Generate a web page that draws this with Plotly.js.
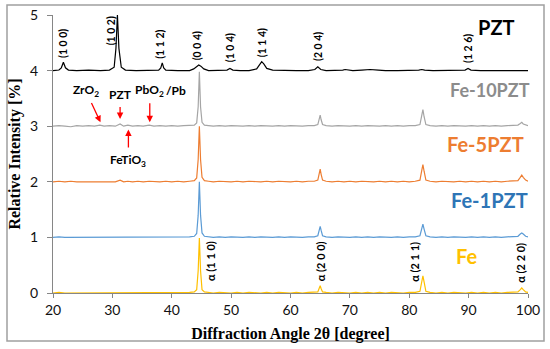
<!DOCTYPE html>
<html>
<head>
<meta charset="utf-8">
<script src="https://cdn.plot.ly/plotly-3.0.1.min.js"></script>
<style>html,body{margin:0;padding:0;background:#fff;}#chart{width:550px;height:349px;}</style>
</head>
<body>
<div id="chart"></div>
<script>
// ---- Data ----
var xPZT = [20,21,21.4,21.75,22.1,22.6,24,26,28,29.5,
  30.3,30.6,30.85,31.1,31.5,32.2,34,36,37.8,38.15,
  38.4,38.65,39,41,43,43.7,44.2,44.55,44.9,45.4,
  46.2,48,49.3,49.8,50.3,51.5,53,54.3,54.8,55.15,
  55.5,56,57,59,61,63,64.1,64.6,65.1,66,
  68,68.8,69.2,69.6,70.5,72,73.4,74.8,76,78,
  80,81.6,82.1,82.6,84,86,88,89.4,89.9,90.4,
  92,94,96,98,100];
var yPZT = [4.00,4.01,4.05,4.15,4.05,4.01,4.00,4.01,4.00,4.01,
  4.06,4.40,5.00,4.40,4.06,4.01,4.00,4.00,4.01,4.05,
  4.14,4.05,4.01,4.00,4.00,4.03,4.08,4.10,4.08,4.03,
  4.00,4.00,4.01,4.04,4.01,4.00,4.00,4.03,4.12,4.16,
  4.12,4.04,4.01,4.00,4.00,4.00,4.02,4.07,4.02,4.00,
  4.00,4.01,4.02,4.01,4.00,4.01,4.02,4.01,4.00,4.00,
  4.00,4.01,4.02,4.01,4.00,4.00,4.00,4.01,4.04,4.01,
  4.00,4.00,4.00,4.00,4.00];

var xFe = [20,21,22,23,24,25,26,27,27.9,28.6,
  29.5,30.5,31.3,31.9,32.6,33.4,34.3,35.2,36.2,37,
  38,39,40,41,42,43,43.8,44.2,44.45,44.65,
  44.85,45.1,45.5,46.2,47,48,49,50,51,52,
  53,54,55,56,57,58,59,60,61,62,
  63,64,64.6,64.85,65.0,65.15,65.4,66,67,68,
  69,70,71,72,73,74,75,76,77,78,
  79,80,81,81.8,82.1,82.3,82.5,82.8,83.5,84.5,
  85.5,86.5,87.5,88.5,89.5,90.5,91.5,92.5,93.5,94.5,
  95.5,96.5,97.5,98.3,98.7,98.95,99.2,99.6,100];

var yFe10 = [3.00,3.01,3.00,2.99,3.01,3.00,3.01,3.00,3.02,3.00,
  3.01,3.00,3.04,3.00,3.02,3.00,3.01,3.00,3.02,3.00,
  3.01,3.00,3.01,3.00,3.01,3.01,3.02,3.06,3.35,3.98,
  3.35,3.07,3.02,3.01,3.00,3.01,3.00,3.01,3.00,3.00,
  3.01,3.00,3.01,3.00,3.00,3.01,3.00,3.01,3.00,3.00,
  3.01,3.01,3.03,3.14,3.20,3.12,3.03,3.01,3.00,3.01,
  3.00,3.00,3.01,3.00,3.01,3.00,3.00,3.01,3.00,3.01,
  3.00,3.01,3.01,3.03,3.18,3.30,3.17,3.03,3.01,3.00,
  3.01,3.00,3.01,3.00,3.00,3.01,3.00,3.01,3.00,3.01,
  3.00,3.01,3.01,3.02,3.05,3.07,3.04,3.02,3.01];

var yFe5 = [2.00,2.01,2.00,2.01,2.00,2.00,2.01,2.00,2.01,2.00,
  2.01,2.00,2.03,2.00,2.01,2.00,2.01,2.00,2.01,2.00,
  2.00,2.01,2.00,2.01,2.00,2.01,2.02,2.07,2.40,3.00,
  2.40,2.08,2.02,2.01,2.00,2.01,2.00,2.00,2.01,2.00,
  2.01,2.00,2.00,2.01,2.00,2.01,2.00,2.00,2.01,2.00,
  2.01,2.01,2.03,2.16,2.23,2.14,2.03,2.01,2.00,2.01,
  2.00,2.01,2.00,2.01,2.00,2.00,2.01,2.00,2.01,2.00,
  2.01,2.00,2.01,2.03,2.20,2.31,2.19,2.03,2.01,2.00,
  2.01,2.00,2.00,2.01,2.00,2.01,2.00,2.01,2.00,2.01,
  2.00,2.01,2.01,2.02,2.08,2.12,2.08,2.03,2.01];

var yFe1 = [1.00,1.01,1.00,1.00,1.01,1.00,1.01,1.00,1.01,1.00,
  1.01,1.00,1.01,1.00,1.01,1.00,1.00,1.01,1.00,1.01,
  1.00,1.01,1.00,1.00,1.01,1.01,1.02,1.07,1.40,2.00,
  1.40,1.08,1.02,1.01,1.00,1.01,1.00,1.01,1.00,1.00,
  1.01,1.00,1.01,1.00,1.00,1.01,1.00,1.01,1.00,1.00,
  1.01,1.01,1.03,1.14,1.20,1.13,1.03,1.01,1.00,1.01,
  1.00,1.00,1.01,1.00,1.01,1.00,1.01,1.00,1.00,1.01,
  1.00,1.01,1.01,1.03,1.16,1.24,1.15,1.03,1.01,1.00,
  1.01,1.00,1.01,1.00,1.00,1.01,1.00,1.01,1.00,1.01,
  1.00,1.01,1.01,1.02,1.06,1.08,1.06,1.02,1.01];

var yFe0 = [0.00,0.01,0.00,0.00,0.01,0.00,0.00,0.01,0.00,0.01,
  0.00,0.00,0.01,0.00,0.01,0.00,0.00,0.01,0.00,0.01,
  0.00,0.00,0.01,0.00,0.01,0.01,0.02,0.06,0.40,0.99,
  0.40,0.06,0.02,0.01,0.00,0.01,0.00,0.00,0.01,0.00,
  0.01,0.00,0.00,0.01,0.00,0.01,0.00,0.00,0.01,0.00,
  0.01,0.01,0.02,0.09,0.13,0.08,0.02,0.01,0.00,0.01,
  0.00,0.00,0.01,0.00,0.01,0.00,0.01,0.00,0.01,0.00,
  0.00,0.01,0.01,0.03,0.22,0.31,0.20,0.03,0.01,0.00,
  0.01,0.00,0.01,0.00,0.00,0.01,0.00,0.01,0.00,0.01,
  0.00,0.01,0.01,0.02,0.06,0.09,0.06,0.02,0.01];

// Sample labels (x in data units of 2θ, may sit slightly past 100)
var sampleNames  = ['PZT','Fe-10PZT','Fe-5PZT','Fe-1PZT','Fe'];
var sampleColors = ['#000000','#a5a5a5','#ed7d31','#5b9bd5','#ffc000'];
var labelColors  = ['#000000','#8c8c8c','#ed7d31','#2e75b6','#ffc000'];
var labelX = [98.1,100.6,99.6,100.3,91.7];
var labelY = [4.78,3.65,2.68,1.68,0.66];
var labelSize = [20,18,20,20,20];

// PZT hkl labels
var pztHkl  = ['(1 0 0)','(1 0 2)','(1 1 2)','(0 0 4)','(1 0 4)','(1 1 4)','(2 0 4)','(1 2 6)'];
var pztHklX = [21.7,29.8,38.0,44.2,49.8,55.1,64.6,89.9];
var pztHklY = [4.48,4.71,4.48,4.45,4.42,4.50,4.44,4.39];

// Fe (alpha) hkl labels
var feHkl  = ['α (1 1 0)','α (2 0 0)','α (2 1 1)','α (2 2 0)'];
var feHklX = [46.55,64.95,80.95,98.7];
var feHklY = [0.57,0.57,0.56,0.55];

// Phase markers: arrow head position and text offset in px
var phaseText = ['ZrO<sub>2</sub>','PZT','PbO<sub>2</sub>','FeTiO<sub>3</sub>'];
var arrowX  = [28.0,31.3,36.3,32.7];
var arrowY  = [3.07,3.13,3.07,2.94];
var arrowAX = [-15,0,0,0];
var arrowAY = [-32,-24,-32,31];
var extraText = ['/Pb'];
var extraX = [40.7];
var extraY = [3.64];

// ---- Traces ----
var ys = [yPZT,yFe10,yFe5,yFe1,yFe0];
var traces = [];
for (var i=0;i<ys.length;i++){
  traces.push({
    x: i===0 ? xPZT : xFe,
    y: ys[i],
    type:'scatter', mode:'lines', name: sampleNames[i],
    line:{color: sampleColors[i], width: 1.2},
    hoverinfo:'skip'
  });
}

// ---- Annotations ----
var ann = [];
for (var i=0;i<sampleNames.length;i++){
  ann.push({x:(labelX[i]-20)/80, y:labelY[i], xref:'paper', yref:'y', text:'<b>'+sampleNames[i]+'</b>',
    showarrow:false, xanchor:'right', yanchor:'middle',
    font:{family:'Lato, Carlito, sans-serif', size:labelSize[i], color:labelColors[i]}});
}
for (var i=0;i<pztHkl.length;i++){
  ann.push({x:pztHklX[i], y:pztHklY[i], text:'<b>'+pztHkl[i]+'</b>', textangle:-90,
    showarrow:false, xanchor:'center', yanchor:'middle',
    font:{family:'Lato, sans-serif', size:10.5, color:'#000'}});
}
for (var i=0;i<feHkl.length;i++){
  ann.push({x:feHklX[i], y:feHklY[i], text:'<b>'+feHkl[i]+'</b>', textangle:-90,
    showarrow:false, xanchor:'center', yanchor:'middle',
    font:{family:'Lato, sans-serif', size:11, color:'#000'}});
}
for (var i=0;i<phaseText.length;i++){
  ann.push({x:arrowX[i], y:arrowY[i], text:'<b>'+phaseText[i]+'</b>', showarrow:true,
    ax:arrowAX[i], ay:arrowAY[i], arrowhead:2, arrowsize:1, arrowwidth:1.3, arrowcolor:'#ff0000',
    standoff:0, startstandoff:3,
    font:{family:'Lato, sans-serif', size:12, color:'#000'}});
}
for (var i=0;i<extraText.length;i++){
  ann.push({x:extraX[i], y:extraY[i], text:'<b>'+extraText[i]+'</b>', showarrow:false,
    xanchor:'center', yanchor:'middle',
    font:{family:'Lato, sans-serif', size:12, color:'#000'}});
}

var axisColor = '#868686';
var layout = {
  width:550, height:349,
  margin:{l:53, r:22, t:15, b:55.5, pad:0},
  paper_bgcolor:'#ffffff', plot_bgcolor:'#ffffff',
  showlegend:false,
  xaxis:{range:[20,100], tick0:20, dtick:10, ticks:'outside', ticklen:4, tickwidth:1, tickcolor:axisColor,
    showline:true, linecolor:axisColor, linewidth:1, showgrid:false, zeroline:false,
    tickfont:{family:'Lato, sans-serif', size:14, color:'#111'},
    title:{text:'<b>Diffraction Angle 2θ [degree]</b>', standoff:11,
      font:{family:'Liberation Serif, Times New Roman, serif', size:16, color:'#000'}}},
  yaxis:{range:[0,5], tick0:0, dtick:1, ticks:'outside', ticklen:5, tickwidth:1, tickcolor:axisColor,
    showline:true, linecolor:axisColor, linewidth:1, showgrid:false, zeroline:false,
    ticklabelstandoff:6,
    tickfont:{family:'Lato, sans-serif', size:14, color:'#111'},
    title:{text:'<b>Relative Intensity [%]</b>', standoff:5,
      font:{family:'Liberation Serif, Times New Roman, serif', size:16, color:'#000'}}},
  annotations: ann,
  shapes:[{type:'rect', xref:'paper', yref:'paper',
    x0:(7-53)/475, x1:(544-53)/475, y0:(293.5-341.7)/278.5, y1:(293.5-5)/278.5,
    line:{color:'#a0a0a0', width:1.5}, fillcolor:'rgba(0,0,0,0)'}]
};

Plotly.newPlot('chart', traces, layout, {displayModeBar:false, staticPlot:true});
</script>
</body>
</html>
